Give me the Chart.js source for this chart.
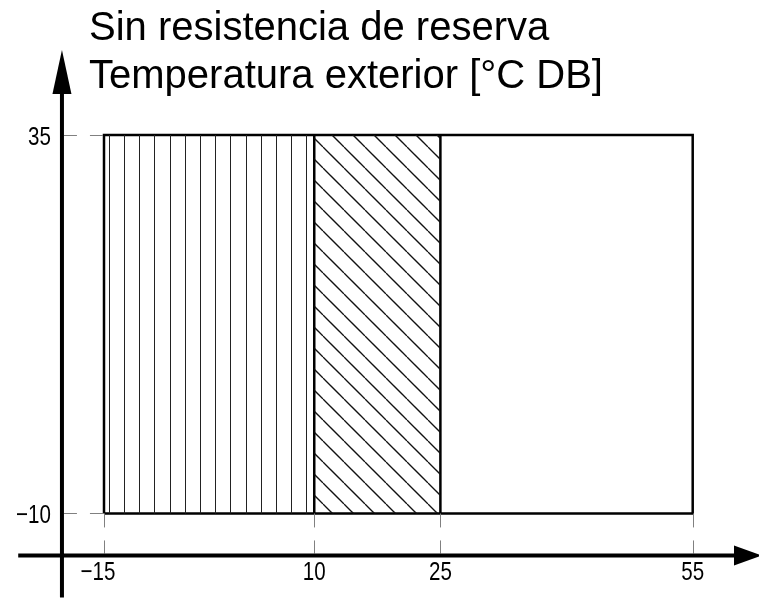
<!DOCTYPE html>
<html>
<head>
<meta charset="utf-8">
<script src="https://cdn.jsdelivr.net/npm/chart.js@4.4.1/dist/chart.umd.min.js"></script>
<style>
  html, body { margin: 0; padding: 0; background: #fff; }
  #wrap { width: 759px; height: 599px; position: relative; }
</style>
</head>
<body>
<div id="wrap"><canvas id="chart"></canvas></div>
<script>
// operating range data
const zoneEdges = [-15, 10, 25, 55];          // outdoor temp boundaries
const zoneHatch = ['vertical', 'diagonal', 'none'];
const tempRange = [-10, 35];                  // vertical range of the box
const xTicks = [-15, 10, 25, 55];
const yTicks = [-10, 35];
const titleLines = ['Sin resistencia de reserva', 'Temperatura exterior [°C DB]'];

// axis crossing and arrow extents (data units)
const axisCross = { x: -20, y: -15 };
const xAxisSpan = [-25.2, 63];
const yAxisSpan = [-20, 45.1];

// same px per unit on both axes
const unit = 8.41;
const xMin = -15 - 104 / unit;
const yMax = 35 + 135 / unit;

function makeVerticalHatch() {
    const c = document.createElement('canvas');
    c.width = 76; c.height = 4;
    const g = c.getContext('2d');
    g.fillStyle = '#222';
    [0, 15, 30, 46, 61].forEach(o => g.fillRect((48 + o) % 76, 0, 1, 4));
    return g.createPattern(c, 'repeat');
}

function makeDiagonalHatch() {
    const s = 21, off = 8;
    const c = document.createElement('canvas');
    c.width = s; c.height = s;
    const g = c.getContext('2d');
    g.strokeStyle = '#111';
    g.lineWidth = 1.3;
    for (let k = -2; k <= 2; k++) {
        g.beginPath();
        g.moveTo(off + k * s, 0);
        g.lineTo(off + k * s + s, s);
        g.stroke();
    }
    return g.createPattern(c, 'repeat');
}

const patterns = { vertical: makeVerticalHatch(), diagonal: makeDiagonalHatch() };

const datasets = [];

// hatched zones
zoneHatch.forEach((h, i) => {
    if (h === 'none') return;
    datasets.push({
        data: [{ x: zoneEdges[i], y: tempRange[1] }, { x: zoneEdges[i + 1], y: tempRange[1] }],
        showLine: true,
        borderWidth: 0,
        pointRadius: 0,
        backgroundColor: patterns[h],
        fill: { value: tempRange[0] }
    });
});

// outer box
const lo = zoneEdges[0], hi = zoneEdges[zoneEdges.length - 1];
datasets.push({
    data: [
        { x: lo, y: tempRange[0] }, { x: lo, y: tempRange[1] },
        { x: hi, y: tempRange[1] }, { x: hi, y: tempRange[0] },
        { x: lo, y: tempRange[0] }
    ],
    showLine: true,
    borderColor: '#000',
    borderWidth: 2.5,
    borderJoinStyle: 'miter',
    pointRadius: 0,
    fill: false
});

// inner dividers
zoneEdges.slice(1, -1).forEach(v => {
    datasets.push({
        data: [{ x: v, y: tempRange[0] }, { x: v, y: tempRange[1] }],
        showLine: true,
        borderColor: '#000',
        borderWidth: 2.5,
        pointRadius: 0,
        fill: false
    });
});

function fmt(v) {
    return v < 0 ? '\u2212' + Math.abs(v) : String(v);
}

// narrow looking text: squeeze a normal sans horizontally
const squeeze = 0.79;
function narrowText(ctx, text, x, y, align) {
    const w = ctx.measureText(text).width * squeeze;
    let left = x;
    if (align === 'right') left = x - w;
    ctx.save();
    ctx.translate(left, y);
    ctx.scale(squeeze, 1);
    ctx.textAlign = 'left';
    ctx.fillText(text, 0, 0);
    ctx.restore();
}

const decorations = {
    id: 'decorations',
    afterDatasetsDraw(chart) {
        const ctx = chart.ctx;
        const xs = chart.scales.x, ys = chart.scales.y;
        const ax = xs.getPixelForValue(axisCross.x);
        const ay = ys.getPixelForValue(axisCross.y);
        const boxL = xs.getPixelForValue(zoneEdges[0]);
        const boxB = ys.getPixelForValue(tempRange[0]);

        ctx.save();

        // dashed tick guides
        ctx.strokeStyle = '#808080';
        ctx.lineWidth = 1;
        ctx.setLineDash([13, 13]);
        yTicks.forEach(v => {
            const py = Math.round(ys.getPixelForValue(v)) + 0.5;
            ctx.beginPath();
            ctx.moveTo(ax + 2, py);
            ctx.lineTo(boxL, py);
            ctx.stroke();
        });
        ctx.setLineDash([14, 13]);
        xTicks.forEach(v => {
            const px = Math.round(xs.getPixelForValue(v)) + 0.5;
            ctx.beginPath();
            ctx.moveTo(px, boxB);
            ctx.lineTo(px, ay - 2);
            ctx.stroke();
        });
        ctx.setLineDash([]);

        // axes with arrows
        ctx.strokeStyle = '#000';
        ctx.fillStyle = '#000';
        ctx.lineWidth = 4;
        const xEnd = xs.getPixelForValue(xAxisSpan[1]);
        const yEnd = ys.getPixelForValue(yAxisSpan[1]);
        ctx.beginPath();
        ctx.moveTo(xs.getPixelForValue(xAxisSpan[0]), ay);
        ctx.lineTo(xEnd - 20, ay);
        ctx.moveTo(ax, ys.getPixelForValue(yAxisSpan[0]));
        ctx.lineTo(ax, yEnd + 40);
        ctx.stroke();

        ctx.beginPath();
        ctx.moveTo(xEnd + 2, ay);
        ctx.lineTo(xEnd - 26, ay - 10);
        ctx.lineTo(xEnd - 26, ay + 10);
        ctx.closePath();
        ctx.fill();
        ctx.beginPath();
        ctx.moveTo(ax, yEnd);
        ctx.lineTo(ax - 9.5, yEnd + 44);
        ctx.lineTo(ax + 9.5, yEnd + 44);
        ctx.closePath();
        ctx.fill();

        // tick labels
        ctx.font = '26px "Liberation Sans", Arial, sans-serif';
        ctx.textBaseline = 'alphabetic';
        yTicks.forEach(v => {
            narrowText(ctx, fmt(v), ax - 11, ys.getPixelForValue(v) + 9.5, 'right');
        });
        xTicks.forEach(v => {
            const px = xs.getPixelForValue(v);
            const w = ctx.measureText(String(Math.abs(v))).width * squeeze;
            const full = ctx.measureText(fmt(v)).width * squeeze;
            narrowText(ctx, fmt(v), px - w / 2 - (full - w), ay + 24, 'left');
        });

        // heading
        ctx.textAlign = 'left';
        ctx.font = '40px "Liberation Sans", Arial, sans-serif';
        ctx.fillText(titleLines[0], 89, 40);
        ctx.fillText(titleLines[1], 89, 88);

        ctx.restore();
    }
};

new Chart(document.getElementById('chart'), {
    type: 'scatter',
    data: { datasets: datasets },
    options: {
        responsive: true,
        maintainAspectRatio: false,
        animation: false,
        events: [],
        layout: { padding: 0 },
        plugins: {
            legend: { display: false },
            tooltip: { enabled: false }
        },
        scales: {
            x: { type: 'linear', display: false, min: xMin, max: xMin + 759 / unit },
            y: { type: 'linear', display: false, min: yMax - 599 / unit, max: yMax }
        }
    },
    plugins: [decorations]
});
</script>
</body>
</html>
